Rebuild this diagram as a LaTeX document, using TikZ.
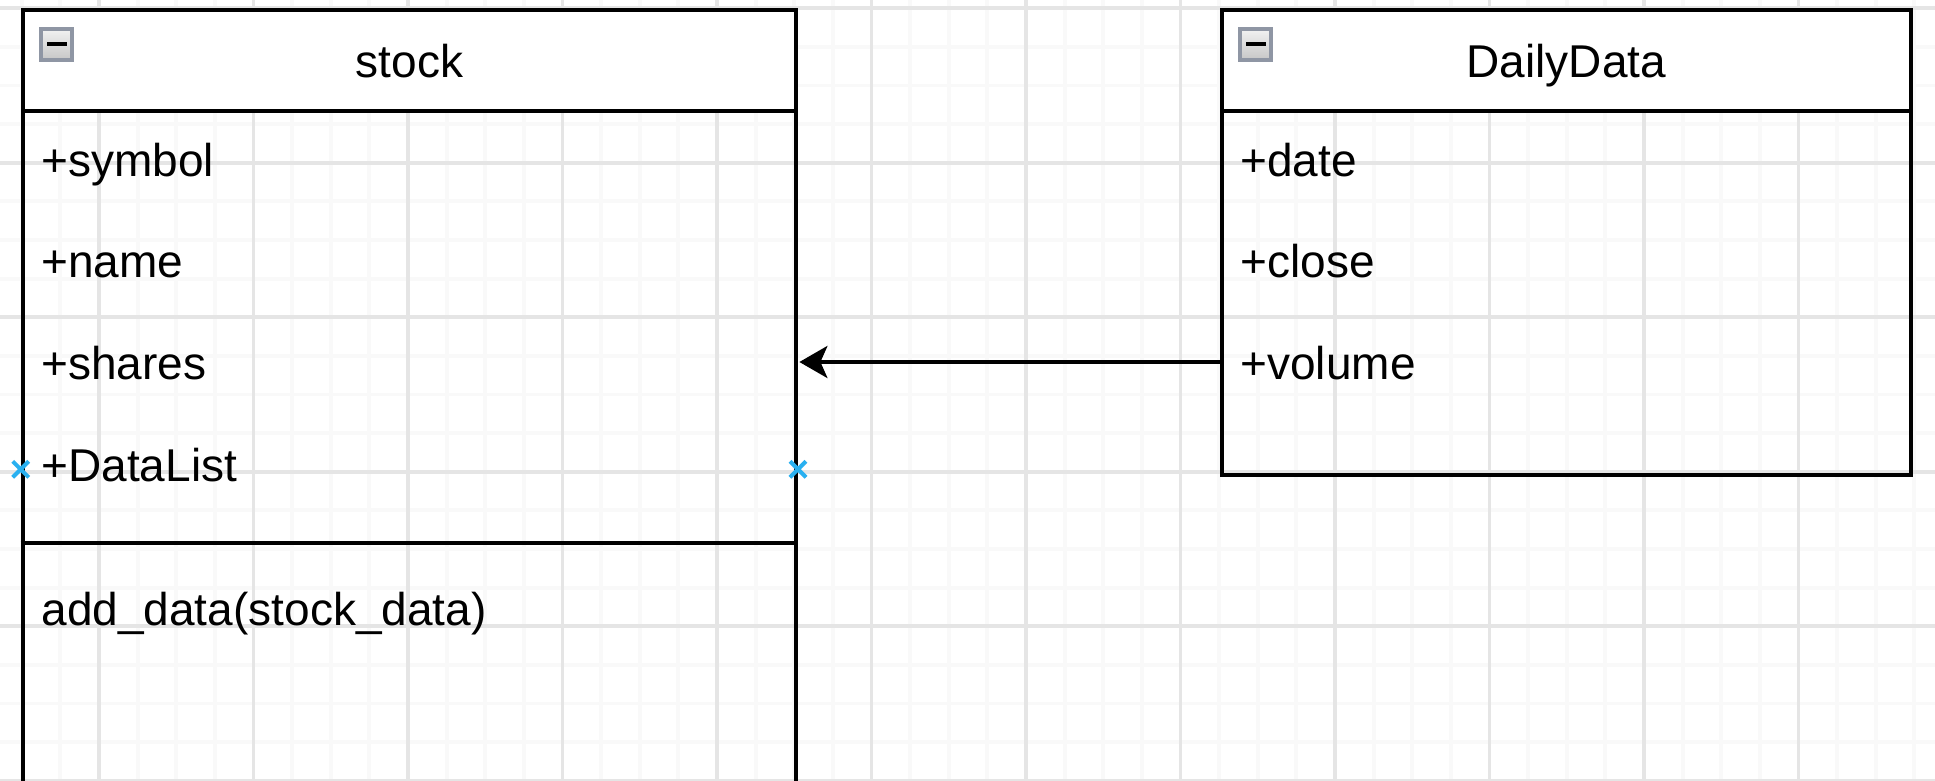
\documentclass[tikz,border=0pt]{standalone}
\usepackage{fontspec}
\setmainfont{Liberation Sans}
\usetikzlibrary{arrows.meta,calc,shadings}
\definecolor{gridmajor}{RGB}{229,229,229}
\definecolor{gridminor}{RGB}{249,249,249}
\definecolor{iconborder}{RGB}{143,150,164}
\definecolor{iconlight}{RGB}{242,242,242}
\definecolor{icondark}{RGB}{198,198,198}
\definecolor{markblue}{RGB}{41,176,240}
\begin{document}
\begin{tikzpicture}[x=0.5pt,y=-0.5pt,
  umlfont/.style={font=\fontsize{23}{27}\selectfont},
  boxline/.style={draw=black, line width=2pt},
  umlbox/.style={boxline, inner sep=0pt, anchor=north west},
  headbox/.style={boxline, fill=white, inner sep=0pt, minimum height=50.35pt,
    text height=17pt, text depth=0pt, umlfont},
  rowbox/.style={inner xsep=10.2pt, inner ysep=0pt, align=left,
    text height=17pt, text depth=0pt, umlfont, anchor=west},
  iconbox/.style={draw=iconborder, line width=2pt, minimum size=15.5pt, inner sep=0pt,
    top color=iconlight, bottom color=icondark},
  marker/.style={draw=markblue, line width=2pt},
  conn/.style={boxline, -{Stealth[length=14pt, width=16pt, inset=3.5pt]}, shorten >=2.3pt}
]
\useasboundingbox (0,0) rectangle (1935,781);
\clip (0,0) rectangle (1935,781);
\fill[white] (0,0) rectangle (1935,781);
% grid
\foreach \k in {-2,...,47}
  \draw[gridminor, line width=1.93pt] ({99+38.625*\k},0) -- ({99+38.625*\k},781);
\foreach \k in {0,...,20}
  \draw[gridminor, line width=1.93pt] (0,{8.3+38.625*\k}) -- (1935,{8.3+38.625*\k});
\foreach \k in {0,...,11}
  \draw[gridmajor, line width=1.93pt] ({99+154.5*\k},0) -- ({99+154.5*\k},781);
\foreach \k in {0,...,5}
  \draw[gridmajor, line width=1.93pt] (0,{8.3+154.5*\k}) -- (1935,{8.3+154.5*\k});

% stock class
\node[umlbox, minimum width=386.65pt, minimum height=405pt] (stock) at (20.7,8.3) {};
\node[headbox, minimum width=386.65pt, anchor=north west] (stockhead) at (20.7,8.3) {stock};
\node[iconbox] (stockicon) at (56.5,44.5) {};
\fill[black] ($(stockicon.center)+(-10,-2)$) rectangle ($(stockicon.center)+(10,2)$);
\node[rowbox, text width=366.25pt] (ssymbol) at (stock.west |- 0,159.5) {+symbol};
\node[rowbox, text width=366.25pt] (sname) at (stock.west |- 0,261) {+name};
\node[rowbox, text width=366.25pt] (sshares) at (stock.west |- 0,362) {+shares};
\node[rowbox, text width=366.25pt] (sdatalist) at (stock.west |- 0,464.5) {+DataList};
\draw[boxline] (stock.west |- 0,542.7) coordinate (sepL) -- (stock.east |- 0,542.7) coordinate (sepR);
\node[rowbox, text width=366.25pt] (sadd) at (stock.west |- 0,608) {add\_data(stock\_data)};

% DailyData class
\node[umlbox, minimum width=344.65pt, minimum height=232.35pt] (daily) at (1219.7,8.3) {};
\node[headbox, minimum width=344.65pt, anchor=north west] (dailyhead) at (1219.7,8.3) {DailyData};
\node[iconbox] (dailyicon) at (1255.5,44.5) {};
\fill[black] ($(dailyicon.center)+(-10,-2)$) rectangle ($(dailyicon.center)+(10,2)$);
\node[rowbox, text width=324.25pt] (ddate) at (daily.west |- 0,159.5) {+date};
\node[rowbox, text width=324.25pt] (dclose) at (daily.west |- 0,261) {+close};
\node[rowbox, text width=324.25pt] (dvolume) at (daily.west |- 0,362) {+volume};

% connector
\draw[conn] (dvolume.west) -- (sshares.east);

% connection point markers
\coordinate (mL) at (stock.west |- 0,469.3);
\coordinate (mR) at (stock.east |- 0,469.3);
\draw[marker] (mL) +(-8,-8) -- +(8,8) +(-8,8) -- +(8,-8);
\draw[marker] (mR) +(-8,-8) -- +(8,8) +(-8,8) -- +(8,-8);
\end{tikzpicture}
\end{document}
